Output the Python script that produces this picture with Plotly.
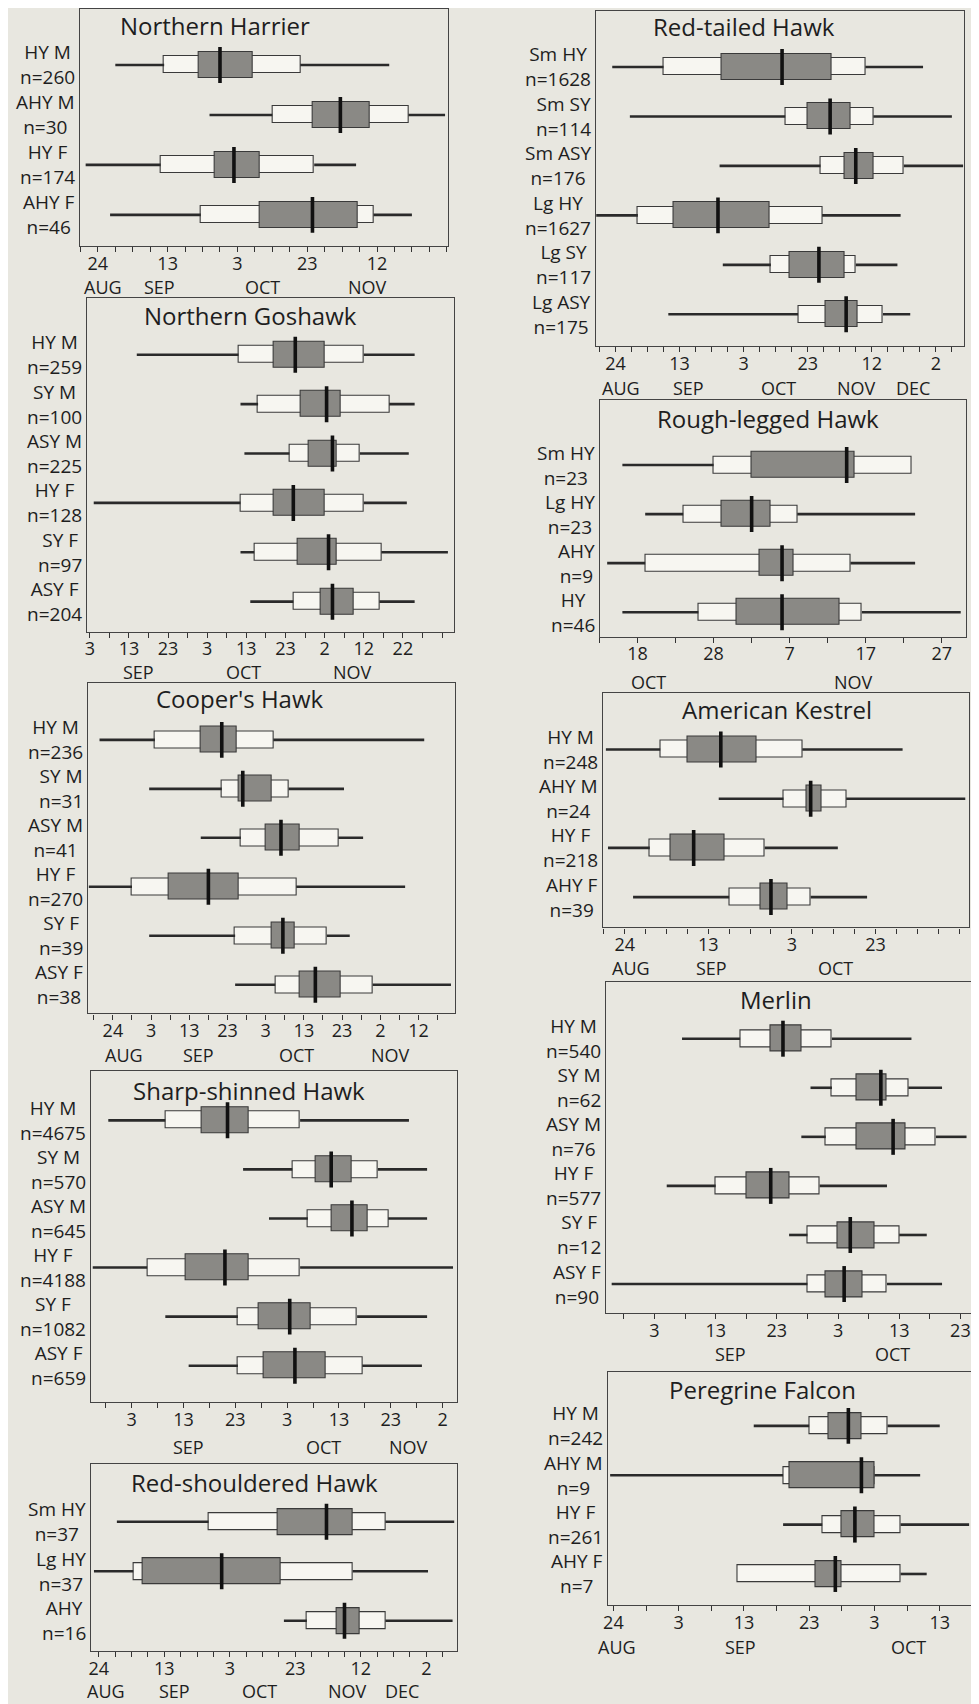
import plotly.graph_objects as go

# ---------------- DATA (day of year: Aug 24 = 236, Sep 3 = 246, Oct 3 = 276, Nov 2 = 306, Dec 2 = 336) ----
# Each row: whisker low, box10 low, box25 low, median, box75 high, box90 high, whisker high

NH_CLASS = ["HY M", "AHY M", "HY F", "AHY F"]
NH_N = [260, 30, 174, 46]
NH_LO = [241, 268, 232.5, 239.5]
NH_P10 = [255, 286, 254, 265.5]
NH_Q1 = [265, 297.5, 269.5, 282.5]
NH_MED = [271, 305.5, 275, 297.5]
NH_Q3 = [280.5, 314, 282.5, 310.5]
NH_P90 = [294, 325, 298, 315]
NH_HI = [319.5, 335.5, 310, 326]

NG_CLASS = ["HY M", "SY M", "ASY M", "HY F", "SY F", "ASY F"]
NG_N = [259, 100, 225, 128, 97, 204]
NG_LO = [258, 284.5, 285.5, 247, 284.5, 287]
NG_P10 = [284, 289, 297, 284.5, 288, 298]
NG_Q1 = [293, 300, 302, 293, 299, 305]
NG_MED = [298.5, 306.5, 308, 298, 307, 308]
NG_Q3 = [306, 310, 309, 306, 309, 313.5]
NG_P90 = [316, 322.5, 315, 316, 320.5, 320]
NG_HI = [329, 329, 327.5, 327, 337.5, 329]

CH_CLASS = ["HY M", "SY M", "ASY M", "HY F", "SY F", "ASY F"]
CH_N = [236, 31, 41, 270, 39, 38]
CH_LO = [232.5, 245.5, 259, 229.7, 245.5, 268]
CH_P10 = [247, 264.5, 269.5, 241, 268, 278.5]
CH_Q1 = [259, 269, 276, 250.5, 277.5, 285]
CH_MED = [264.5, 270, 280, 261, 280.5, 289]
CH_Q3 = [268.5, 277.5, 285, 269, 283.5, 295.5]
CH_P90 = [278, 282, 295, 284, 292, 304]
CH_HI = [317.5, 296.5, 301.5, 312.5, 298, 324.5]

SS_CLASS = ["HY M", "SY M", "ASY M", "HY F", "SY F", "ASY F"]
SS_N = [4675, 570, 645, 4188, 1082, 659]
SS_LO = [241.5, 267.5, 272.5, 238.5, 252.5, 257]
SS_P10 = [252.5, 277, 280, 249, 266.5, 266.5]
SS_Q1 = [259.5, 281.5, 284.5, 256.5, 270.5, 271.5]
SS_MED = [264.5, 284.5, 288.5, 264, 276.5, 277.5]
SS_Q3 = [268.5, 288.5, 291.5, 268.5, 280.5, 283.5]
SS_P90 = [278.5, 293.5, 295.5, 278.5, 289.5, 290.5]
SS_HI = [299.5, 303, 303, 308, 303, 302]

RS_CLASS = ["Sm HY", "Lg HY", "AHY"]
RS_N = [37, 37, 16]
RS_LO = [241.5, 234.5, 292.5]
RS_P10 = [269.5, 246.5, 299.5]
RS_Q1 = [290.5, 249.5, 308.5]
RS_MED = [305.5, 273.5, 311]
RS_Q3 = [313.5, 291.5, 315.5]
RS_P90 = [323.5, 313.5, 323.5]
RS_HI = [344.5, 336.5, 344]

RT_CLASS = ["Sm HY", "Sm SY", "Sm ASY", "Lg HY", "Lg SY", "Lg ASY"]
RT_N = [1628, 114, 176, 1627, 117, 175]
RT_LO = [235, 240.5, 268.5, 230, 269.5, 252.5]
RT_P10 = [251, 289, 300, 243, 284.5, 293]
RT_Q1 = [269, 296, 307.5, 254, 290.5, 301.5]
RT_MED = [288, 303, 311, 268, 299.5, 308]
RT_Q3 = [303.5, 309.5, 316.5, 284, 307.5, 311.5]
RT_P90 = [314, 316.5, 326, 300.5, 311, 319.5]
RT_HI = [332, 341, 344.5, 325, 324, 328]

RL_CLASS = ["Sm HY", "Lg HY", "AHY", "HY"]
RL_N = [23, 23, 9, 46]
RL_LO = [289, 292, 287, 289]
RL_P10 = [301, 297, 292, 299]
RL_Q1 = [306, 302, 307, 304]
RL_MED = [318.5, 306, 310, 310]
RL_Q3 = [319.5, 308.5, 311.5, 317.5]
RL_P90 = [327, 312, 319, 320.5]
RL_HI = [327, 327.5, 327.5, 333.5]

AK_CLASS = ["HY M", "AHY M", "HY F", "AHY F"]
AK_N = [248, 24, 218, 39]
AK_LO = [231.5, 258.5, 232, 238]
AK_P10 = [244.5, 274, 242, 261]
AK_Q1 = [251, 279.5, 247, 268.5]
AK_MED = [259, 280.5, 252.5, 271]
AK_Q3 = [267.5, 283, 260, 275]
AK_P90 = [278.5, 289, 269.5, 280.5]
AK_HI = [302.5, 317.5, 287, 294]

ML_CLASS = ["HY M", "SY M", "ASY M", "HY F", "SY F", "ASY F"]
ML_N = [540, 62, 76, 577, 12, 90]
ML_LO = [250.5, 271.5, 270, 248, 268, 239]
ML_P10 = [260, 275, 274, 256, 271, 271]
ML_Q1 = [265, 279, 279, 261, 276, 274]
ML_MED = [267, 283, 285, 265, 278, 277]
ML_Q3 = [270, 284, 287, 268, 282, 280]
ML_P90 = [275, 287.5, 292, 273, 286, 284]
ML_HI = [288, 293, 297, 284, 290.5, 293]

PF_CLASS = ["HY M", "AHY M", "HY F", "AHY F"]
PF_N = [242, 9, 261, 7]
PF_LO = [257.5, 235.5, 262, 255]
PF_P10 = [266, 262, 268, 255]
PF_Q1 = [269, 263, 271, 267]
PF_MED = [272, 274, 273, 270]
PF_Q3 = [274, 276, 276, 271]
PF_P90 = [278, 276, 280, 280]
PF_HI = [286, 283, 290.5, 284]

# tick labels (day of year -> day of month) and month labels
NH_TICKS = {236: "24", 256: "13", 276: "3", 296: "23", 316: "12"}
NH_MONTHS = {237.6: "AUG", 253.6: "SEP", 283.3: "OCT", 313.3: "NOV"}
NG_TICKS = {246: "3", 256: "13", 266: "23", 276: "3", 286: "13", 296: "23", 306: "2", 316: "12", 326: "22"}
NG_MONTHS = {258.5: "SEP", 285.2: "OCT", 313: "NOV"}
CH_TICKS = {236: "24", 246: "3", 256: "13", 266: "23", 276: "3", 286: "13", 296: "23", 306: "2", 316: "12"}
CH_MONTHS = {238.8: "AUG", 258.3: "SEP", 284: "OCT", 308.8: "NOV"}
SS_TICKS = {246: "3", 256: "13", 266: "23", 276: "3", 286: "13", 296: "23", 306: "2"}
SS_MONTHS = {257: "SEP", 283: "OCT", 299.4: "NOV"}
RS_TICKS = {236: "24", 256: "13", 276: "3", 296: "23", 316: "12", 336: "2"}
RS_MONTHS = {238.3: "AUG", 259.1: "SEP", 285: "OCT", 312: "NOV", 328.7: "DEC"}
RT_TICKS = {236: "24", 256: "13", 276: "3", 296: "23", 316: "12", 336: "2"}
RT_MONTHS = {237.8: "AUG", 258.7: "SEP", 287: "OCT", 311.2: "NOV", 329: "DEC"}
RL_TICKS = {291: "18", 301: "28", 311: "7", 321: "17", 331: "27"}
RL_MONTHS = {292.4: "OCT", 319.4: "NOV"}
AK_TICKS = {236: "24", 256: "13", 276: "3", 296: "23"}
AK_MONTHS = {237.6: "AUG", 256.8: "SEP", 286.4: "OCT"}
ML_TICKS = {246: "3", 256: "13", 266: "23", 276: "3", 286: "13", 296: "23"}
ML_MONTHS = {258.5: "SEP", 284.9: "OCT"}
PF_TICKS = {236: "24", 246: "3", 256: "13", 266: "23", 276: "3", 286: "13"}
PF_MONTHS = {236.5: "AUG", 255.5: "SEP", 281.2: "OCT"}

# ---------------- LAYOUT (pixel geometry of each panel, in window pixels) ----------------
WIN_W, WIN_H = 979, 1704
OFF = 8                      # default page body margin
W, H = WIN_W - OFF, WIN_H - OFF
BG = "#e8e7e0"
INK = "#1e1e1e"
FONT = "Open Sans"
AXIS_FS = 18


def px(x):
    return (x - OFF) / W


def py(y):
    return 1 - (y - OFF) / H


# title, data, ticks, months, box(l,r,t,b), x-range, first/last tick, row0 y, row spacing, title centre x, title y, month offset
panels = [
    ("Northern Harrier", (NH_CLASS, NH_N, NH_LO, NH_P10, NH_Q1, NH_MED, NH_Q3, NH_P90, NH_HI), NH_TICKS, NH_MONTHS,
     (76, 446, 8, 245), (230.8, 336.4), (231, 336), 64, 50, 212, 25, 41),
    ("Northern Goshawk", (NG_CLASS, NG_N, NG_LO, NG_P10, NG_Q1, NG_MED, NG_Q3, NG_P90, NG_HI), NG_TICKS, NG_MONTHS,
     (83, 452, 297, 631), (245.2, 339.1), (246, 336), 354, 49.4, 247, 315, 40),
    ("Cooper's Hawk", (CH_CLASS, CH_N, CH_LO, CH_P10, CH_Q1, CH_MED, CH_Q3, CH_P90, CH_HI), CH_TICKS, CH_MONTHS,
     (84, 453, 682, 1013), (229.4, 325.6), (231, 321), 739.3, 49, 237, 698, 42),
    ("Sharp-shinned Hawk", (SS_CLASS, SS_N, SS_LO, SS_P10, SS_Q1, SS_MED, SS_Q3, SS_P90, SS_HI), SS_TICKS, SS_MONTHS,
     (87, 455, 1071, 1402), (238.1, 308.8), (241, 306), 1120, 49.1, 246, 1090, 45),
    ("Red-shouldered Hawk", (RS_CLASS, RS_N, RS_LO, RS_P10, RS_Q1, RS_MED, RS_Q3, RS_P90, RS_HI), RS_TICKS, RS_MONTHS,
     (87, 455, 1464, 1651), (233.5, 345.4), (236, 341), 1521.7, 49.5, 252, 1482, 40),
    ("Red-tailed Hawk", (RT_CLASS, RT_N, RT_LO, RT_P10, RT_Q1, RT_MED, RT_Q3, RT_P90, RT_HI), RT_TICKS, RT_MONTHS,
     (594, 964, 10, 345), (229.8, 344.8), (231, 341), 66, 49.5, 743, 26, 42),
    ("Rough-legged Hawk", (RL_CLASS, RL_N, RL_LO, RL_P10, RL_Q1, RL_MED, RL_Q3, RL_P90, RL_HI), RL_TICKS, RL_MONTHS,
     (598, 966, 399, 636), (286, 334.2), (286, 331), 464.3, 49.1, 767, 418, 45),
    ("American Kestrel", (AK_CLASS, AK_N, AK_LO, AK_P10, AK_Q1, AK_MED, AK_Q3, AK_P90, AK_HI), AK_TICKS, AK_MONTHS,
     (601, 969, 692, 927), (230.7, 318.4), (231, 316), 749, 49.2, 776, 709, 41),
    ("Merlin", (ML_CLASS, ML_N, ML_LO, ML_P10, ML_Q1, ML_MED, ML_Q3, ML_P90, ML_HI), ML_TICKS, ML_MONTHS,
     (604, 972, 982, 1313), (238, 297.9), (241, 296), 1038.3, 49.1, 775, 999, 41),
    ("Peregrine Falcon", (PF_CLASS, PF_N, PF_LO, PF_P10, PF_Q1, PF_MED, PF_Q3, PF_P90, PF_HI), PF_TICKS, PF_MONTHS,
     (606, 973, 1372, 1605), (235.1, 291.1), (236, 291), 1425.7, 49.4, 762, 1389, 42),
]

LIGHT_H = 17.0   # px
DARK_H = 26.0    # px
MED_H = 36.0     # px

fig = go.Figure()
annotations = []
layout_axes = {}

for k, (title, data, ticks, months, box, xr, trange, row0, sp, tcx, ty, moff) in enumerate(panels, start=1):
    cls, ns, lo, p10, q1, med, q3, p90, hi = data
    xa = "x" if k == 1 else f"x{k}"
    ya = "y" if k == 1 else f"y{k}"
    l, r, t, b = box
    rows = list(range(len(cls)))

    # whiskers (outside the boxes)
    wx, wy = [], []
    for i in rows:
        wx += [lo[i], p10[i], None, p90[i], hi[i], None]
        wy += [i, i, None, i, i, None]
    # 10-90 box
    fig.add_trace(go.Bar(orientation="h", y=rows, base=p10, x=[p90[i] - p10[i] for i in rows],
                         width=LIGHT_H / sp, marker=dict(color="#f7f6f1", line=dict(color="#3a3a3a", width=1.1)),
                         xaxis=xa, yaxis=ya, showlegend=False, hoverinfo="skip"))
    # 25-75 box
    fig.add_trace(go.Bar(orientation="h", y=rows, base=q1, x=[q3[i] - q1[i] for i in rows],
                         width=DARK_H / sp, marker=dict(color="#8a8985", line=dict(color="#3a3a3a", width=1.1)),
                         xaxis=xa, yaxis=ya, showlegend=False, hoverinfo="skip"))
    fig.add_trace(go.Scatter(x=wx, y=wy, mode="lines", line=dict(color="#2a2a2a", width=2.6),
                             xaxis=xa, yaxis=ya, showlegend=False, hoverinfo="skip"))
    # medians
    mx, my = [], []
    hh = MED_H / sp / 2
    for i in rows:
        mx += [med[i], med[i], None]
        my += [i - hh, i + hh, None]
    fig.add_trace(go.Scatter(x=mx, y=my, mode="lines", line=dict(color="#111111", width=3.6),
                             xaxis=xa, yaxis=ya, showlegend=False, hoverinfo="skip"))

    tickvals = list(range(trange[0], trange[1] + 1, 5))
    ticktext = [ticks.get(v, "") for v in tickvals]
    layout_axes["xaxis" if k == 1 else f"xaxis{k}"] = dict(
        domain=[px(l), px(r)], range=list(xr), anchor=ya, tickvals=tickvals, ticktext=ticktext,
        ticks="outside", ticklen=5, tickwidth=1.2, tickcolor="#333", showline=True, mirror=True,
        linecolor="#444", linewidth=1.3, showgrid=False, zeroline=False, ticklabelstandoff=-4,
        tickfont=dict(family=FONT, size=AXIS_FS, color=INK), fixedrange=True)
    layout_axes["yaxis" if k == 1 else f"yaxis{k}"] = dict(
        domain=[py(b), py(t)], range=[(b - row0) / sp, (t - row0) / sp], anchor=xa,
        showticklabels=False, ticks="", showline=True, mirror=True, linecolor="#444", linewidth=1.3,
        showgrid=False, zeroline=False, fixedrange=True)

    # title
    annotations.append(dict(text=title, x=px(tcx), y=py(ty), xref="paper", yref="paper",
                            xanchor="center", yanchor="middle", showarrow=False,
                            font=dict(family=FONT, size=24, color=INK)))
    # row labels
    for i in rows:
        annotations.append(dict(text=f"{cls[i]}<br>n={ns[i]}", x=px(l - 3), y=i, xref="paper", yref=ya,
                                xanchor="right", yanchor="middle", align="center", showarrow=False,
                                font=dict(family=FONT, size=19, color=INK)))
    # month labels
    for mxv, mtxt in months.items():
        annotations.append(dict(text=mtxt, x=mxv, y=py(b + moff), xref=xa, yref="paper",
                                xanchor="center", yanchor="middle", showarrow=False,
                                font=dict(family=FONT, size=AXIS_FS, color=INK)))

fig.update_layout(width=W, height=H, margin=dict(l=0, r=0, t=0, b=0), paper_bgcolor=BG, plot_bgcolor=BG,
                  barmode="overlay", bargap=0, annotations=annotations, font=dict(family=FONT, color=INK),
                  **layout_axes)

fig.write_html("out.html")
